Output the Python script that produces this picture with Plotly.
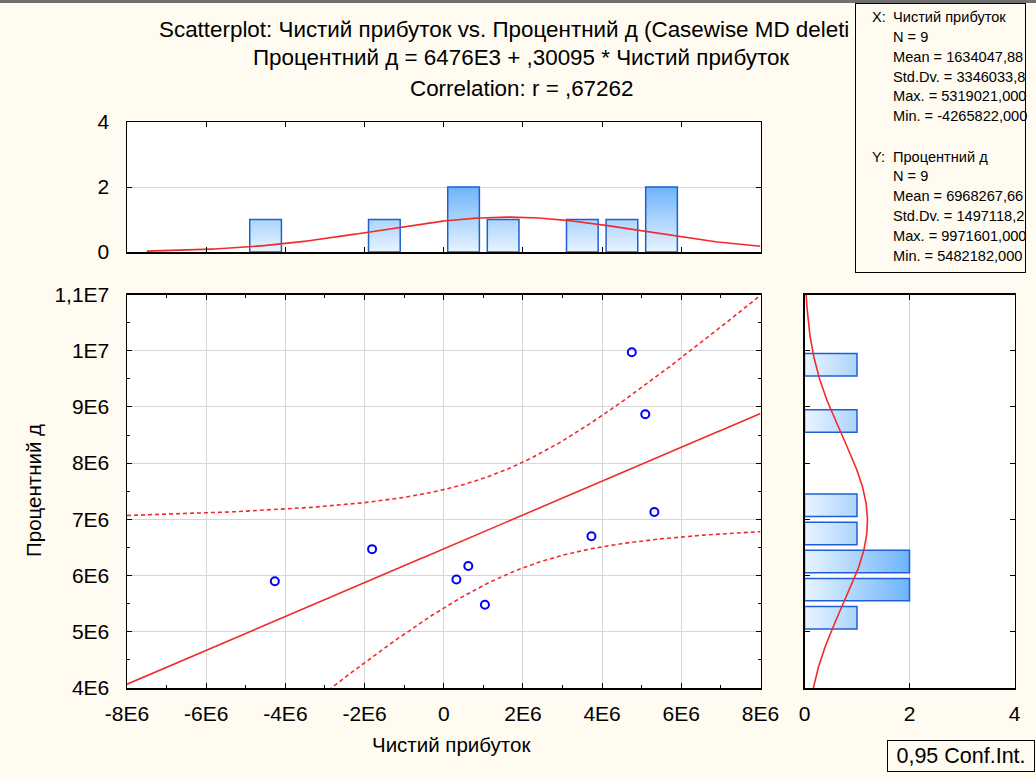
import numpy as np
import plotly.graph_objects as go

# ---------------- data ----------------
net_profit = [-4265822, -1810000, 320000, 620000, 1040000, 3730000, 4750000, 5090000, 5319021]
interest_pct = [5900000, 6470000, 5930000, 6170000, 5482182, 6700000, 9971601, 8870000, 7130000]

# summary statistics shown on the chart
N = 9
MEAN_X, SD_X = 1634047.88, 3346033.8
MEAN_Y, SD_Y = 6968267.66, 1497118.2
R = 0.67262
INTERCEPT, SLOPE = 6476e3, 0.30095
T_CRIT = 2.3646  # t(0.975, N-2)

x_tick_vals = [-8e6, -6e6, -4e6, -2e6, 0, 2e6, 4e6, 6e6, 8e6]
x_tick_text = ["-8E6", "-6E6", "-4E6", "-2E6", "0", "2E6", "4E6", "6E6", "8E6"]
y_tick_vals = [4e6, 5e6, 6e6, 7e6, 8e6, 9e6, 1e7, 1.1e7]
y_tick_text = ["4E6", "5E6", "6E6", "7E6", "8E6", "9E6", "1E7", "1,1E7"]
count_ticks = [0, 2, 4]
count_text = ["0", "2", "4"]

title_lines = [
    "Scatterplot: Чистий прибуток vs. Процентний д (Casewise MD deleti",
    "Процентний д = 6476E3 + ,30095 * Чистий прибуток",
    "Correlation: r = ,67262",
]
stats_x = ["N = 9", "Mean = 1634047,88", "Std.Dv. = 3346033,8", "Max. = 5319021,000", "Min. = -4265822,000"]
stats_y = ["N = 9", "Mean = 6968267,66", "Std.Dv. = 1497118,2", "Max. = 9971601,000", "Min. = 5482182,000"]
x_name = "Чистий прибуток"
y_name = "Процентний д"

# ---------------- layout helpers ----------------
W, H = 1036, 780
FONT = "Liberation Sans, Arial, sans-serif"
CREAM = "#fffbf0"
def fx(p):
    return p / W
def fy(p):
    return 1 - p / H

X_RANGE = [-8e6, 8e6]
Y_RANGE = [4e6, 1.1e7]
XBIN, YBIN = 1e6, 5e5

fig = go.Figure()

# regression line and confidence band
xg = np.linspace(X_RANGE[0], X_RANGE[1], 300)
fit = INTERCEPT + SLOPE * xg
s_e = SD_Y * np.sqrt(1 - R ** 2) * np.sqrt((N - 1) / (N - 2))
se_fit = s_e * np.sqrt(1 / N + (xg - MEAN_X) ** 2 / ((N - 1) * SD_X ** 2))
red = "#f22a2a"
fig.add_trace(go.Scatter(x=xg, y=fit, mode="lines", line=dict(color=red, width=1.6),
                         xaxis="x", yaxis="y", hoverinfo="skip"))
for sgn in (1, -1):
    fig.add_trace(go.Scatter(x=xg, y=fit + sgn * T_CRIT * se_fit, mode="lines",
                             line=dict(color=red, width=1.6, dash="4px,3px"),
                             xaxis="x", yaxis="y", hoverinfo="skip"))
fig.add_trace(go.Scatter(x=net_profit, y=interest_pct, mode="markers",
                         marker=dict(symbol="circle-open", size=8, color="#0000ff",
                                     line=dict(width=2, color="#0000ff")),
                         xaxis="x", yaxis="y"))

# top histogram (x variable)
xedges = np.arange(X_RANGE[0], X_RANGE[1] + XBIN, XBIN)
xcounts, _ = np.histogram(net_profit, bins=xedges)
bx, by = [], []
for i, c in enumerate(xcounts):
    if c > 0:
        l = xedges[i] + 0.1 * XBIN
        r = xedges[i + 1] - 0.1 * XBIN
        bx += [l, l, r, r, l, None]
        by += [0, c, c, 0, 0, None]
fig.add_trace(go.Scatter(x=bx, y=by, mode="lines", fill="toself",
                         line=dict(color="#1f5fd6", width=1.5),
                         fillgradient=dict(type="vertical", start=0, stop=2,
                                           colorscale=[[0, "#eaf4ff"], [1, "#6db4fa"]]),
                         xaxis="x2", yaxis="y2", hoverinfo="skip"))
xn = np.linspace(-7.5e6, X_RANGE[1], 200)
xnorm = N * XBIN * np.exp(-0.5 * ((xn - MEAN_X) / SD_X) ** 2) / (SD_X * np.sqrt(2 * np.pi))
fig.add_trace(go.Scatter(x=xn, y=xnorm, mode="lines", line=dict(color=red, width=1.6),
                         xaxis="x2", yaxis="y2", hoverinfo="skip"))

# right histogram (y variable)
yedges = np.arange(Y_RANGE[0], Y_RANGE[1] + YBIN, YBIN)
ycounts, _ = np.histogram(interest_pct, bins=yedges)
hx, hy = [], []
for i, c in enumerate(ycounts):
    if c > 0:
        lo = yedges[i] + 0.1 * YBIN
        hi = yedges[i + 1] - 0.1 * YBIN
        hy += [lo, hi, hi, lo, lo, None]
        hx += [0, 0, c, c, 0, None]
fig.add_trace(go.Scatter(x=hx, y=hy, mode="lines", fill="toself",
                         line=dict(color="#1f5fd6", width=1.5),
                         fillgradient=dict(type="horizontal", start=0, stop=2,
                                           colorscale=[[0, "#eaf4ff"], [1, "#6db4fa"]]),
                         xaxis="x3", yaxis="y3", hoverinfo="skip"))
yn = np.linspace(Y_RANGE[0], Y_RANGE[1], 200)
ynorm = N * YBIN * np.exp(-0.5 * ((yn - MEAN_Y) / SD_Y) ** 2) / (SD_Y * np.sqrt(2 * np.pi))
fig.add_trace(go.Scatter(x=ynorm, y=yn, mode="lines", line=dict(color=red, width=1.6),
                         xaxis="x3", yaxis="y3", hoverinfo="skip"))

# ---------------- axes ----------------
common = dict(showline=True, linecolor="black", linewidth=1.5, mirror="ticks",
              ticks="inside", tickcolor="black", ticklen=5, zeroline=False,
              gridcolor="#d6d6d6", gridwidth=1, automargin=False,
              tickfont=dict(family=FONT, size=21, color="black"))
main_x_dom = [fx(127), fx(760.5)]
main_y_dom = [fy(688), fy(294.5)]

fig.update_layout(
    xaxis=dict(common, domain=main_x_dom, range=X_RANGE, anchor="y",
               tickmode="array", tickvals=x_tick_vals, ticktext=x_tick_text, showgrid=True,
               ticklabelstandoff=6,
               minor=dict(tick0=0, dtick=XBIN, ticks="inside", ticklen=3, tickcolor="black", showgrid=False)),
    yaxis=dict(common, domain=main_y_dom, range=Y_RANGE, anchor="x",
               tickmode="array", tickvals=y_tick_vals, ticktext=y_tick_text, showgrid=True,
               ticklabelstandoff=12,
               minor=dict(tick0=0, dtick=YBIN, ticks="inside", ticklen=3, tickcolor="black", showgrid=False)),
    xaxis2=dict(common, domain=main_x_dom, range=X_RANGE, anchor="y2",
                tickmode="array", tickvals=x_tick_vals, showticklabels=False, showgrid=False),
    yaxis2=dict(common, domain=[fy(252), fy(122)], range=[0, 4], anchor="x2",
                tickmode="array", tickvals=count_ticks, ticktext=count_text, showgrid=True,
                ticklabelstandoff=12),
    xaxis3=dict(common, domain=[fx(804.5), fx(1014.5)], range=[0, 4], anchor="y3",
                tickmode="array", tickvals=count_ticks, ticktext=count_text, showgrid=True,
                ticklabelstandoff=6),
    yaxis3=dict(common, domain=main_y_dom, range=Y_RANGE, anchor="x3",
                tickmode="array", tickvals=y_tick_vals, showticklabels=False, showgrid=False),
)

# ---------------- text ----------------
ann = []
tfont = dict(family=FONT, size=22.4, color="black")
ann.append(dict(text=title_lines[0], x=fx(157), y=fy(30), xanchor="left", yanchor="middle", font=tfont))
ann.append(dict(text=title_lines[1], x=fx(521), y=fy(58), xanchor="center", yanchor="middle", font=tfont))
ann.append(dict(text=title_lines[2], x=fx(521), y=fy(88), xanchor="center", yanchor="middle", font=tfont))
# statistics box
ann.append(dict(text=" ", x=fx(855), y=fy(3), xanchor="left", yanchor="top", width=169, height=268,
                bgcolor=CREAM, bordercolor="black", borderwidth=1, borderpad=0, showarrow=False))
sfont = dict(family=FONT, size=14.6, color="black")
ann.append(dict(text="X:", x=fx(870), y=fy(17), xanchor="left", yanchor="middle", font=sfont))
ann.append(dict(text=x_name, x=fx(891), y=fy(17), xanchor="left", yanchor="middle", font=sfont))
for i, s in enumerate(stats_x):
    ann.append(dict(text=s, x=fx(891), y=fy(37 + 19.8 * i), xanchor="left", yanchor="middle", font=sfont))
ann.append(dict(text="Y:", x=fx(870), y=fy(157), xanchor="left", yanchor="middle", font=sfont))
ann.append(dict(text=y_name, x=fx(891), y=fy(157), xanchor="left", yanchor="middle", font=sfont))
for i, s in enumerate(stats_y):
    ann.append(dict(text=s, x=fx(891), y=fy(176.5 + 19.8 * i), xanchor="left", yanchor="middle", font=sfont))
# axis titles
afont = dict(family=FONT, size=20.5, color="black")
ann.append(dict(text=x_name, x=fx(451), y=fy(744), xanchor="center", yanchor="middle", font=afont))
ann.append(dict(text=y_name, x=fx(33), y=fy(491), xanchor="center", yanchor="middle", textangle=-90, font=afont))
# conf. int. legend box
ann.append(dict(text="0,95 Conf.Int.", x=fx(961), y=fy(756), xanchor="center", yanchor="middle",
                width=144, height=28, bgcolor=CREAM, bordercolor="black", borderwidth=1, borderpad=1,
                font=dict(family=FONT, size=21.5, color="black")))
for a in ann:
    a.setdefault("showarrow", False)
    a["xref"] = "paper"
    a["yref"] = "paper"

fig.update_layout(
    width=W, height=H, margin=dict(l=0, r=0, t=0, b=0, autoexpand=False),
    paper_bgcolor=CREAM, plot_bgcolor="white", showlegend=False,
    font=dict(family=FONT, size=20, color="black"),
    annotations=ann,
    shapes=[dict(type="rect", xref="paper", yref="paper", x0=0, x1=1, y0=fy(3), y1=1,
                 fillcolor="#707070", line=dict(width=0), layer="above")],
)

fig.write_html("out.html", config={"displayModeBar": False, "staticPlot": True},
               post_script="document.body.style.margin='0';document.body.style.background='#fffbf0';")
